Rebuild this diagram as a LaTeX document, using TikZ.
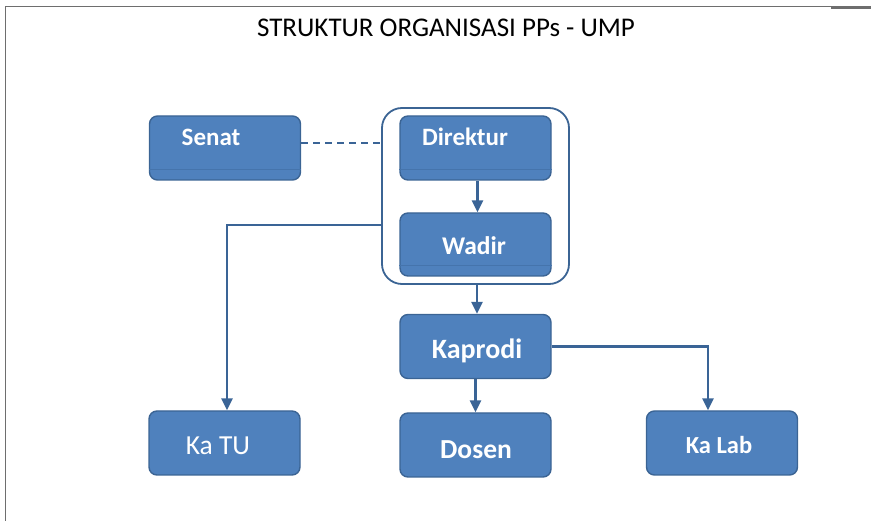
\documentclass[tikz,border=0pt]{standalone}
\usepackage{fontspec}
\setmainfont{Carlito}
\usetikzlibrary{arrows.meta,calc}
\definecolor{boxfill}{HTML}{4F81BD}
\definecolor{boxline}{HTML}{3B6494}
\definecolor{conncol}{HTML}{3A6496}
\definecolor{innerln}{HTML}{4574AC}
\definecolor{framecol}{HTML}{6E6E6E}
\tikzset{
  box/.style={draw=boxline, line width=1.4pt, fill=boxfill, rounded corners=8pt,
    minimum width=151pt, minimum height=64pt, inner sep=0pt, text=white},
  lbl/.style={text=white, inner sep=0pt},
  conn/.style={draw=conncol, line width=2.4pt},
  arr/.style={conn, -{Triangle[length=12pt,width=11pt]}},
}
\begin{document}
\begin{tikzpicture}[x=1pt,y=-1pt]
\useasboundingbox (0,0) rectangle (871,521);
% frame
\draw[framecol, line width=1.5pt] (5.5,521) -- (5.5,6.5) -- (871,6.5);
\draw[framecol, line width=3pt] (831,7.5) -- (871,7.5);
% title
\node (title) at (446,28) {\fontsize{27}{32}\selectfont STRUKTUR ORGANISASI PPs - UMP};
% container
\node[draw=boxline, line width=1.8pt, rounded corners=20pt, minimum width=187pt, minimum height=176pt, inner sep=0pt] (cont) at (475.5,196) {};
% top boxes
\node[box] (senat) at (225,148) {};
\draw[innerln, line width=0.8pt] ([yshift=-21pt]senat.west) -- ([yshift=-21pt]senat.east);
\node[lbl] (senatT) at (211,137) {\fontsize{25}{30}\selectfont\bfseries Senat};
\node[box] (direktur) at (475.5,148) {};
\draw[innerln, line width=0.8pt] ([yshift=-21pt]direktur.west) -- ([yshift=-21pt]direktur.east);
\node[lbl] (direkturT) at (465,137) {\fontsize{25}{30}\selectfont\bfseries Direktur};
\node[box, minimum height=63pt] (wadir) at (475.5,244.5) {};
\draw[innerln, line width=0.8pt] ([yshift=-20.5pt]wadir.west) -- ([yshift=-20.5pt]wadir.east);
\node[lbl] (wadirT) at (474,246) {\fontsize{25.5}{30}\selectfont\bfseries Wadir};
% lower boxes
\node[box] (kaprodi) at (475.5,346.5) {};
\node[lbl] (kaprodiT) at (477,350.5) {\fontsize{28}{33}\selectfont\bfseries Kaprodi};
\node[box] (dosen) at (475.5,445) {};
\node[lbl] (dosenT) at (476,450) {\fontsize{27.5}{33}\selectfont\bfseries Dosen};
\node[box] (katu) at (224.5,443) {};
\node[lbl] (katuT) at (218,446) {\fontsize{27.5}{33}\selectfont Ka TU};
\node[box] (kalab) at (722,443) {};
\node[lbl] (kalabT) at (719,445) {\fontsize{24.5}{29}\selectfont\bfseries Ka Lab};
% connectors
\draw[conn, dashed, dash pattern=on 7pt off 5pt, line width=1.8pt] ([yshift=5pt]senat.east) -- ([yshift=5pt]senat.east -| cont.west);
\draw[arr] ([xshift=2pt]direktur.south) -- ([xshift=2pt]wadir.north);
\draw[arr] ([xshift=1.5pt]cont.south) -- ([xshift=1.5pt]kaprodi.north);
\draw[arr] (kaprodi.south) -- (dosen.north);
\draw[arr] ([yshift=-29pt]cont.west) -| ([xshift=2.5pt]katu.north);
\draw[arr] (kaprodi.east) -| ([xshift=-14pt]kalab.north);
\end{tikzpicture}
\end{document}
